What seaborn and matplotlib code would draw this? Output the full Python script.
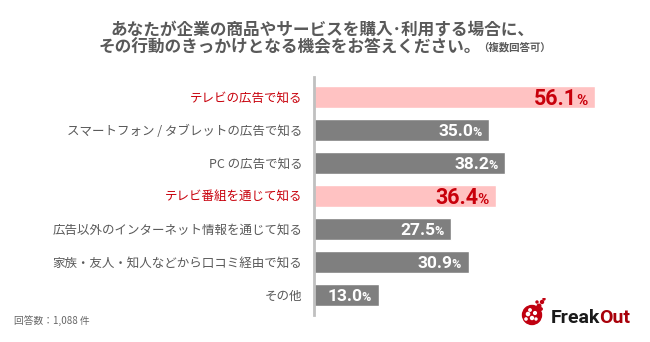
import matplotlib
matplotlib.use("Agg")
import matplotlib.pyplot as plt
import seaborn as sns
import pandas as pd
from matplotlib.patches import Circle

categories = [
    "テレビの広告で知る",
    "スマートフォン / タブレットの広告で知る",
    "PC の広告で知る",
    "テレビ番組を通じて知る",
    "広告以外のインターネット情報を通じて知る",
    "家族・友人・知人などから口コミ経由で知る",
    "その他",
]
values = [56.1, 35.0, 38.2, 36.4, 27.5, 30.9, 13.0]
highlight = [True, False, False, True, False, False, False]
title_line1 = "あなたが企業の商品やサービスを購入･利用する場合に、"
title_line2 = "その行動のきっかけとなる機会をお答えください。"
title_note = "（複数回答可）"
footnote = "回答数：1,088 件"
brand1 = "Freak"
brand2 = "Out"

PINK = "#FFC2C2"
GRAY = "#7F7F7F"
RED = "#C8000B"
TXT = "#595959"

sns.set_theme(style="white")
plt.rcParams["font.family"] = ["Noto Sans CJK JP", "DejaVu Sans"]

W, H = 650, 342
fig = plt.figure(figsize=(6.5, 3.42), dpi=100)
fig.patch.set_facecolor("white")
ax = fig.add_axes([313.5 / W, 27 / H, 301 / W, 238 / H])

df = pd.DataFrame({"category": categories, "value": values})
palette = {c: (PINK if h else GRAY) for c, h in zip(categories, highlight)}
sns.barplot(data=df, x="value", y="category", hue="category", palette=palette,
            legend=False, width=0.68, saturation=1, ax=ax, orient="h")

ax.set_xlim(0, 60)
ax.set_ylim(6.6, -0.6)
ax.set_xlabel("")
ax.set_ylabel("")
ax.set_xticks([])
for s in ["top", "right", "bottom"]:
    ax.spines[s].set_visible(False)
ax.spines["left"].set_color("#C0C0C0")
ax.spines["left"].set_linewidth(2)
ax.tick_params(axis="y", length=0, pad=8)
for lbl, h in zip(ax.get_yticklabels(), highlight):
    lbl.set_fontsize(9)
    lbl.set_color(RED if h else TXT)
    lbl.set_fontfamily(["Noto Sans CJK JP", "DejaVu Sans"])

# value labels
fig.canvas.draw()
renderer = fig.canvas.get_renderer()
numfont = ["Roboto", "DejaVu Sans"]
for i, (v, h) in enumerate(zip(values, highlight)):
    if h:
        fs, pfs, col = 15.5, 11, RED
    else:
        fs, pfs, col = 12.5, 9, "white"
    yoff = -0.36 * fs
    pad = -5.5
    pt = ax.annotate("%", xy=(v, i), xytext=(pad, yoff), textcoords="offset points",
                     ha="right", va="baseline", fontsize=pfs, fontweight="bold",
                     color=col, family=numfont)
    bb = pt.get_window_extent(renderer)
    wpt = bb.width * 72 / fig.dpi
    ax.annotate(f"{v:.1f}", xy=(v, i), xytext=(pad - wpt + 0.6, yoff),
                textcoords="offset points", ha="right", va="baseline",
                fontsize=fs, fontweight="bold", color=col, family=numfont)

# title
fig.text(322 / W, 1 - 30 / H, title_line1, ha="center", va="center",
         fontsize=12, fontweight="bold", color=TXT)
fig.text(481 / W, 1 - 47 / H, title_line2, ha="right", va="center",
         fontsize=12, fontweight="bold", color=TXT)
fig.text(478 / W, 1 - 47 / H, title_note, ha="left", va="center",
         fontsize=7.5, fontweight="bold", color=TXT)

# footnote
fig.text(14 / W, 1 - 321 / H, footnote, ha="left", va="center",
         fontsize=7, color="#666666")

# logo
lax = fig.add_axes([519 / W, 1 - 326 / H, 28 / W, 28 / H])
lax.set_xlim(0, 28)
lax.set_ylim(0, 28)
lax.set_aspect("equal")
lax.axis("off")
lax.add_patch(Circle((13, 11), 9.5, color="#C00010"))
for (x, y, r) in [(9, 12, 1.6), (13, 8, 1.5), (16, 13, 1.4), (11, 16, 1.2), (7, 7, 1.1), (17, 7, 1.0)]:
    lax.add_patch(Circle((x, y), r, color="white"))
for (x, y, r) in [(20, 20, 1.8), (23, 24, 1.5), (25, 27, 1.0), (18, 24, 1.0), (22, 17, 1.2)]:
    lax.add_patch(Circle((x, y), r, color="#C00010"))
t1 = fig.text(551 / W, 1 - 323 / H, brand1, ha="left", va="baseline",
              fontsize=14, fontweight="bold", color="#1a1a1a", family=["Roboto", "DejaVu Sans"])
fig.canvas.draw()
bb = t1.get_window_extent(fig.canvas.get_renderer())
fig.text((bb.x1 - 1.5) / W, 1 - 323 / H, brand2, ha="left", va="baseline",
         fontsize=14, fontweight="bold", color="#A8000A", family=["Roboto", "DejaVu Sans"])

fig.savefig("out.png", dpi=100, facecolor="white")
